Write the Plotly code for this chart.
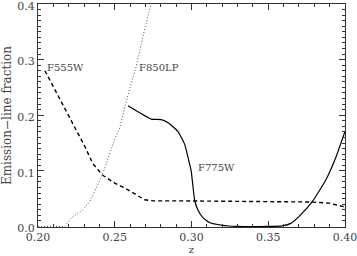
import plotly.graph_objects as go

# F555W (dashed)
z_f555w = [0.2045, 0.2227, 0.2303, 0.2357, 0.2422, 0.250, 0.2578, 0.2695, 0.275, 0.292, 0.3506, 0.3766, 0.3896, 0.395, 0.400]
v_f555w = [0.280, 0.186, 0.145, 0.113, 0.092, 0.078, 0.067, 0.048, 0.046, 0.046, 0.045, 0.044, 0.042, 0.039, 0.035]

# F850LP (dotted)
z_f850lp = [0.200, 0.2175, 0.2195, 0.222, 0.226, 0.2292, 0.2338, 0.2357, 0.2422, 0.246, 0.250, 0.2532, 0.2565, 0.2597, 0.2641, 0.2684, 0.2738, 0.276]
v_f850lp = [0.0, 0.0, 0.008, 0.016, 0.024, 0.030, 0.045, 0.056, 0.095, 0.125, 0.157, 0.177, 0.213, 0.248, 0.289, 0.342, 0.401, 0.43]

# F775W (solid)
z_f775w = [0.2586, 0.2738, 0.2803, 0.2850, 0.2911, 0.2955, 0.2987, 0.2998, 0.302, 0.3041, 0.3074, 0.3117, 0.320, 0.330, 0.350, 0.359, 0.365, 0.3701, 0.3788, 0.3874, 0.394, 0.400]
v_f775w = [0.217, 0.193, 0.192, 0.186, 0.171, 0.148, 0.113, 0.100, 0.048, 0.030, 0.016, 0.007, 0.002, 0.0, 0.0, 0.001, 0.006, 0.018, 0.045, 0.083, 0.124, 0.171]

x_ticks = [0.20, 0.25, 0.30, 0.35, 0.40]
y_ticks = [0.0, 0.1, 0.2, 0.3, 0.4]

labels = [("F555W", 0.2045, 0.286), ("F850LP", 0.2643, 0.286), ("F775W", 0.3032, 0.106)]

FONT = "DejaVu Serif"
TXT = "#444444"

fig = go.Figure()
fig.add_trace(go.Scatter(x=z_f555w, y=v_f555w, mode="lines",
                         line=dict(color="black", width=1.4, dash="4px,3px")))
fig.add_trace(go.Scatter(x=z_f850lp, y=v_f850lp, mode="lines",
                         line=dict(color="#555555", width=1, dash="1px,2px")))
fig.add_trace(go.Scatter(x=z_f775w, y=v_f775w, mode="lines",
                         line=dict(color="black", width=1.2, shape="spline", smoothing=0.4)))

for t, x, y in labels:
    fig.add_annotation(x=x, y=y, text=t, showarrow=False, xanchor="left", yanchor="middle",
                       font=dict(family=FONT, size=10, color=TXT))

axis_common = dict(showgrid=False, zeroline=False, showline=True, linecolor="#333333", linewidth=1,
                   mirror="allticks", ticks="inside", tickcolor="#333333", ticklen=6,
                   automargin=False, ticklabeloverflow="allow",
                   tickfont=dict(family=FONT, size=11, color=TXT))

fig.update_xaxes(range=[0.20, 0.40], tickvals=x_ticks, ticktext=[f"{v:.2f}" for v in x_ticks],
                 minor=dict(dtick=0.01, ticks="inside", ticklen=3, tickcolor="#333333"),
                 title=dict(text="z", font=dict(family=FONT, size=10, color=TXT), standoff=2),
                 **axis_common)
fig.update_yaxes(range=[-0.001, 0.4], tickvals=y_ticks, ticktext=[f"{v:.1f}" for v in y_ticks],
                 ticklabelshift=2,
                 minor=dict(dtick=0.01, tick0=0, ticks="inside", ticklen=3, tickcolor="#333333"),
                 title=dict(text="Emission−line fraction", font=dict(family=FONT, size=12, color=TXT), standoff=6),
                 **axis_common)

fig.update_layout(width=357, height=256, margin=dict(l=38, r=12, t=4, b=29),
                  plot_bgcolor="white", paper_bgcolor="white", showlegend=False)

fig.write_html("out.html", config={"displayModeBar": False},
               post_script="document.body.style.margin='0px';")
